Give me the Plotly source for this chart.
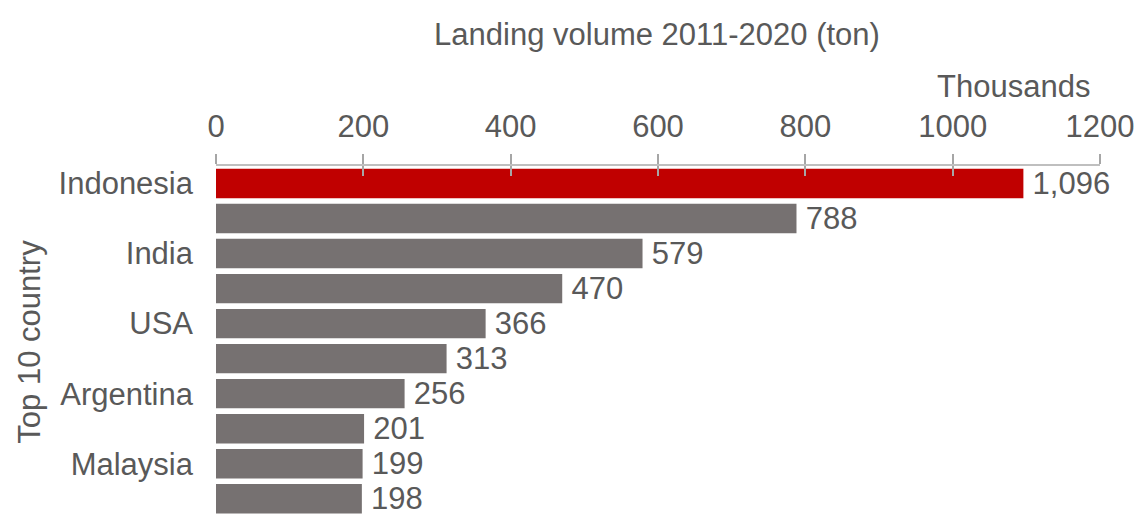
import plotly.graph_objects as go

# Data (thousand tons), ranked top 10
tick_labels = ["Indonesia", "", "India", "", "USA", "", "Argentina", "", "Malaysia", ""]
values = [1096, 788, 579, 470, 366, 313, 256, 201, 199, 198]
bar_colors = ["#C00000"] + ["#767171"] * 9
x_ticks = [0, 200, 400, 600, 800, 1000, 1200]

positions = list(range(len(values)))
FONT = "Liberation Sans, Arial, sans-serif"
TXT = "#595959"
FS = 31

fig = go.Figure()
fig.add_trace(go.Bar(
    x=values, y=positions, orientation="h",
    marker=dict(color=bar_colors, line=dict(width=0)),
    text=["\u2009" + f"{v:,}" for v in values], textposition="outside",
    constraintext="none",
    textfont=dict(family=FONT, size=FS, color=TXT),
    cliponaxis=False, showlegend=False,
))
# invisible trace to anchor the inside-tick axis
fig.add_trace(go.Scatter(x=[0], y=[0], xaxis="x2", mode="markers",
                         marker=dict(opacity=0), showlegend=False, hoverinfo="skip"))

fig.update_layout(
    width=1144, height=518,
    margin=dict(l=216, r=44, t=166, b=0),
    paper_bgcolor="white", plot_bgcolor="white",
    bargap=0.16,
    font=dict(family=FONT, size=FS, color=TXT),
    title=dict(text="Landing volume 2011-2020 (ton)", x=0.5743, xanchor="center",
               y=0.935, yanchor="middle", font=dict(family=FONT, size=FS, color=TXT)),
    xaxis=dict(side="top", range=[0, 1200], tickvals=x_ticks, showgrid=False,
               zeroline=False, showline=True, linecolor="#BFBFBF", linewidth=1.5,
               ticks="outside", ticklen=10, tickcolor="#A6A6A6", tickwidth=1.5,
               ticklabelstandoff=5,
               tickfont=dict(family=FONT, size=FS, color=TXT)),
    xaxis2=dict(overlaying="x", side="top", range=[0, 1200], tickvals=x_ticks,
                showgrid=False, zeroline=False, showline=False, showticklabels=False,
                ticks="inside", ticklen=10, tickcolor="#A6A6A6", tickwidth=1.5),
    yaxis=dict(range=[9.55, -0.5], tickvals=positions, ticktext=tick_labels,
               showgrid=False, zeroline=False, showline=False, ticks="",
               ticklabelstandoff=22,
               tickfont=dict(family=FONT, size=FS, color=TXT),
               title=dict(text="Top 10 country", standoff=8,
                          font=dict(family=FONT, size=FS, color=TXT))),
    annotations=[dict(text="Thousands", xref="x", yref="paper", x=1200, y=1.0,
                      xanchor="right", yanchor="bottom", yshift=60, xshift=-8,
                      showarrow=False, font=dict(family=FONT, size=FS, color=TXT))],
)

fig.write_html("out.html")
